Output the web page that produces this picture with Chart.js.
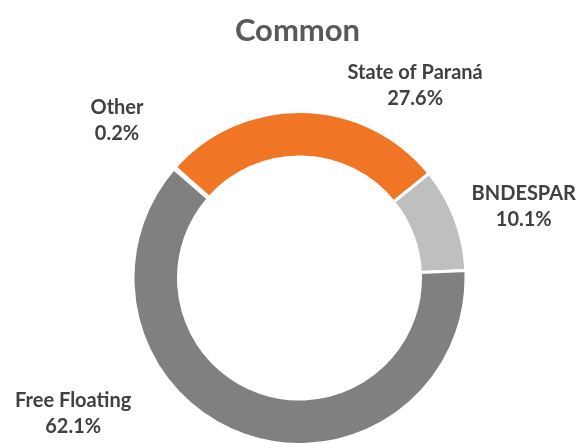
<!DOCTYPE html>
<html>
<head>
<meta charset="utf-8">
<script src="https://cdn.jsdelivr.net/npm/chart.js@4/dist/chart.umd.min.js"></script>
<style>
  html, body { margin: 0; padding: 0; background: #fff; overflow: hidden; }
  #wrap { position: relative; width: 579px; height: 446px; }
</style>
</head>
<body>
<div id="wrap"><canvas id="chart"></canvas></div>
<script>
var labels = ['Other', 'State of Paraná', 'BNDESPAR', 'Free Floating'];
var values = [0.2, 27.6, 10.1, 62.1];
var colors = ['#A5A5A5', '#F07525', '#BFBFBF', '#808080'];

// where each label sits: angle (deg, clockwise from top) and distance in outer radii
var labelAngles = [-49.2, 31.0, 72.3, 239.1];
var labelDist = [1.448, 1.348, 1.414, 1.584];

var outsideLabels = {
    id: 'outsideLabels',
    afterDraw: function (chart) {
        var ctx = chart.ctx;
        var arcs = chart.getDatasetMeta(0).data;
        ctx.save();
        ctx.fillStyle = '#404040';
        ctx.font = 'bold 20px Lato';
        ctx.textAlign = 'center';
        ctx.textBaseline = 'middle';
        arcs.forEach(function (arc, i) {
            var a = (labelAngles[i] - 90) * Math.PI / 180;
            var r = arc.outerRadius * labelDist[i];
            var x = arc.x + Math.cos(a) * r;
            var y = arc.y + Math.sin(a) * r;
            ctx.fillText(labels[i], x, y - 13);
            ctx.fillText(values[i].toFixed(1) + '%', x, y + 13);
        });
        // title
        ctx.fillStyle = '#595959';
        ctx.font = 'bold 31px Lato';
        ctx.fillText('Common', arcs[0].x - 2, 31);
        ctx.restore();
    }
};

new Chart(document.getElementById('chart'), {
    type: 'doughnut',
    data: {
        labels: labels,
        datasets: [{
            data: values,
            backgroundColor: colors,
            borderColor: '#ffffff',
            borderWidth: 3,
            hoverOffset: 0
        }]
    },
    options: {
        responsive: true,
        maintainAspectRatio: false,
        animation: false,
        rotation: -49,
        cutout: 121,
        layout: { padding: { left: 131, right: 111, top: 110, bottom: 0 } },
        plugins: {
            legend: { display: false },
            tooltip: { enabled: false },
            title: { display: false }
        }
    },
    plugins: [outsideLabels]
});
</script>
</body>
</html>
